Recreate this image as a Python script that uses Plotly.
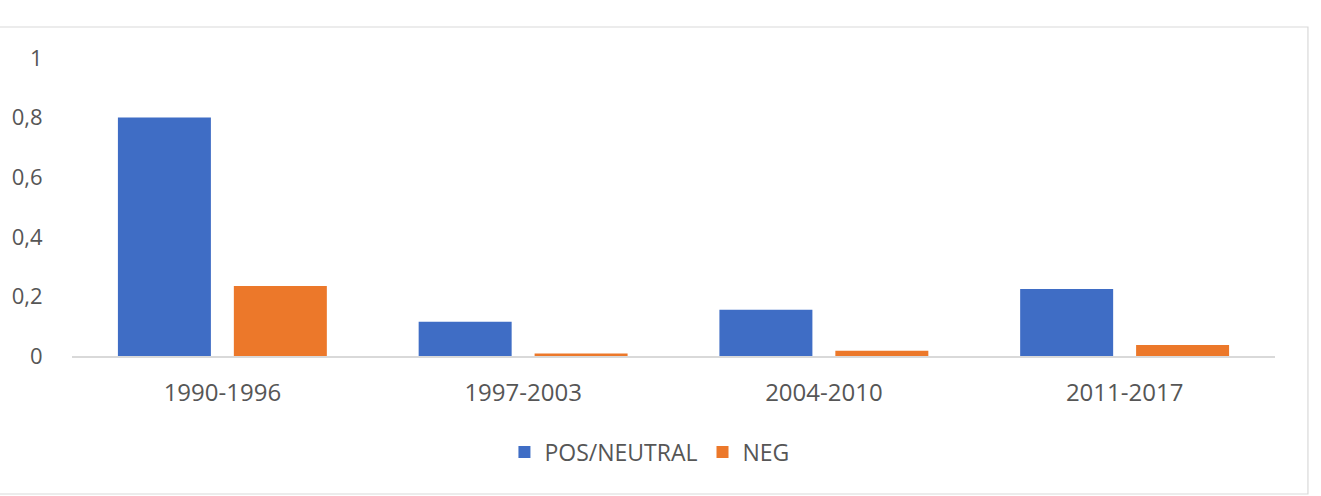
import plotly.graph_objects as go

categories = ["1990-1996", "1997-2003", "2004-2010", "2011-2017"]
pos_neutral = [0.80, 0.115, 0.155, 0.225]
neg = [0.235, 0.008, 0.018, 0.037]
y_ticks = [0, 0.2, 0.4, 0.6, 0.8, 1]

FONT = "Open Sans"
GRAY = "#565656"

fig = go.Figure()
fig.add_trace(go.Bar(name="POS/NEUTRAL", x=categories, y=pos_neutral,
                     marker=dict(color="#3F6DC5", line=dict(width=0))))
fig.add_trace(go.Bar(name="NEG", x=categories, y=neg,
                     marker=dict(color="#EC782A", line=dict(width=0))))

# plot area px: x 70..1275, y 58..356
L, R, T, B = 70, 1275, 58, 356
W, H = R - L, B - T
def px(x): return (x - L) / W
def py(y): return (B - y) / H

fig.update_layout(
    width=1321, height=496,
    margin=dict(l=L, r=1321 - R, t=T, b=496 - B),
    paper_bgcolor="white", plot_bgcolor="white",
    separators=", ",
    barmode="group", bargap=0.229, bargroupgap=0.198,
    font=dict(family=FONT, color=GRAY),
    showlegend=True,
    legend=dict(orientation="h", x=0.48, xanchor="center", y=py(452), yanchor="middle",
                font=dict(size=23, color=GRAY), itemwidth=30, traceorder="normal",
                bgcolor="rgba(0,0,0,0)"),
    xaxis=dict(showline=True, linecolor="#D9D9D9", linewidth=1.5, showgrid=False,
               ticks="outside", ticklen=0, tickfont=dict(size=24, color=GRAY),
               ticklabelstandoff=14, zeroline=False, fixedrange=True),
    yaxis=dict(range=[0, 1], tickvals=y_ticks, showgrid=False, zeroline=False,
               showline=False, ticks="outside", ticklen=0,
               tickfont=dict(size=22, color=GRAY), ticklabelstandoff=24,
               tickformat="~g"),
    shapes=[dict(type="rect", xref="paper", yref="paper",
                 x0=px(-10), x1=px(1308), y0=py(494), y1=py(27),
                 line=dict(color="#D9D9D9", width=1.2), fillcolor="rgba(0,0,0,0)",
                 layer="below")],
)

fig.write_html("out.html")
